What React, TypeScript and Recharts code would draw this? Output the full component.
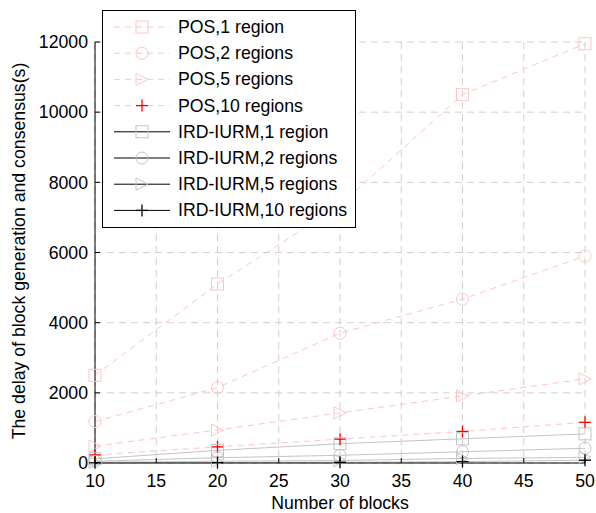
import React from 'react';
import { LineChart, Line, XAxis, YAxis, CartesianGrid } from 'recharts';

const blocks = [10, 20, 30, 40, 50];
const pos1 = [2500, 5100, 7350, 10500, 11950];
const pos2 = [1180, 2150, 3700, 4670, 5900];
const pos5 = [480, 940, 1430, 1910, 2400];
const pos10 = [230, 460, 680, 900, 1160];
const ird1 = [120, 360, 550, 690, 830];
const ird2 = [50, 150, 220, 320, 420];
const ird5 = [20, 50, 70, 130, 160];
const ird10 = [5, 10, 20, 40, 80];

const xTicks = [10, 15, 20, 25, 30, 35, 40, 45, 50];
const yTicks = [0, 2000, 4000, 6000, 8000, 10000, 12000];

const data = blocks.map((b, i) => ({
  blocks: b,
  pos1: pos1[i],
  pos2: pos2[i],
  pos5: pos5[i],
  pos10: pos10[i],
  ird1: ird1[i],
  ird2: ird2[i],
  ird5: ird5[i],
  ird10: ird10[i],
}));

const PINK = '#ffc4c4';
const GRAY = '#c4c4c4';
const FONT = '"Liberation Sans", Arial, sans-serif';
const FS = 17.7;

type Shape = 'square' | 'circle' | 'triangle' | 'plus';

const Marker = ({ shape, cx, cy, color }: { shape: Shape; cx: number; cy: number; color: string }) => {
  const r = 6;
  if (shape === 'square') return <rect x={cx - r} y={cy - r} width={2 * r} height={2 * r} fill="none" stroke={color} />;
  if (shape === 'circle') return <circle cx={cx} cy={cy} r={r} fill="none" stroke={color} />;
  if (shape === 'triangle')
    return <polygon points={`${cx - r},${cy - r} ${cx + r},${cy} ${cx - r},${cy + r}`} fill="none" stroke={color} />;
  return (
    <g stroke={color} strokeWidth={1.3}>
      <line x1={cx - r} y1={cy} x2={cx + r} y2={cy} />
      <line x1={cx} y1={cy - r} x2={cx} y2={cy + r} />
    </g>
  );
};

const dotFor = (shape: Shape, color: string) => (props: any) => {
  const { cx, cy, key, index } = props;
  if (cx == null || cy == null) return <g key={key ?? index} />;
  return (
    <g key={key ?? `${shape}-${index}`}>
      <Marker shape={shape} cx={cx} cy={cy} color={color} />
    </g>
  );
};

const series = [
  { key: 'pos1', name: 'POS,1 region', shape: 'square' as Shape, line: PINK, dash: '6 5', marker: PINK, legendLine: PINK },
  { key: 'pos2', name: 'POS,2 regions', shape: 'circle' as Shape, line: PINK, dash: '6 5', marker: PINK, legendLine: PINK },
  { key: 'pos5', name: 'POS,5 regions', shape: 'triangle' as Shape, line: PINK, dash: '6 5', marker: PINK, legendLine: PINK },
  { key: 'pos10', name: 'POS,10 regions', shape: 'plus' as Shape, line: PINK, dash: '6 5', marker: '#ff0000', legendLine: PINK },
  { key: 'ird1', name: 'IRD-IURM,1 region', shape: 'square' as Shape, line: GRAY, dash: undefined, marker: GRAY, legendLine: '#000' },
  { key: 'ird2', name: 'IRD-IURM,2 regions', shape: 'circle' as Shape, line: GRAY, dash: undefined, marker: GRAY, legendLine: '#000' },
  { key: 'ird5', name: 'IRD-IURM,5 regions', shape: 'triangle' as Shape, line: GRAY, dash: undefined, marker: GRAY, legendLine: '#000' },
  { key: 'ird10', name: 'IRD-IURM,10 regions', shape: 'plus' as Shape, line: GRAY, dash: undefined, marker: '#000', legendLine: '#000' },
];

const hiddenTick = () => <g />;

const LegendBox = () => (
  <div
    style={{
      position: 'absolute',
      left: 102,
      top: 10,
      width: 252,
      height: 216,
      border: '1px solid #000',
      background: '#fff',
    }}
  >
    <svg width={252} height={216} style={{ display: 'block' }}>
      {series.map((s, i) => {
        const y = 16 + i * 26.2;
        return (
          <g key={s.key}>
            <line x1={11} x2={67} y1={y} y2={y} stroke={s.legendLine} strokeDasharray={s.dash} />
            <Marker shape={s.shape} cx={39} cy={y} color={s.marker} />
            <text x={75} y={y} dominantBaseline="central" fontFamily={FONT} fontSize={FS} fill="#000">
              {s.name}
            </text>
          </g>
        );
      })}
    </svg>
  </div>
);

export default function App() {
  return (
    <div style={{ position: 'absolute', left: 0, top: 0, width: 596, height: 513, background: '#fff' }}>
      <LineChart width={596} height={513} data={data} margin={{ top: 42, right: 11, bottom: 20, left: 35 }}>
        <CartesianGrid stroke="#d0d0d0" strokeDasharray="7 5" />
        <XAxis
          dataKey="blocks"
          type="number"
          domain={[10, 50]}
          ticks={xTicks}
          height={30}
          stroke="#000"
          tickSize={-5}
          tickMargin={16}
          tick={{ fill: '#000', fontSize: FS, fontFamily: FONT }}
          label={() => (
            <text x={340} y={509} textAnchor="middle" fontFamily={FONT} fontSize={FS} fill="#000">
              Number of blocks
            </text>
          )}
        />
        <XAxis
          xAxisId="top"
          orientation="top"
          dataKey="blocks"
          type="number"
          domain={[10, 50]}
          ticks={xTicks}
          height={0}
          stroke="#000"
          tickSize={-5}
          tick={hiddenTick}
        />
        <YAxis
          type="number"
          domain={[0, 12000]}
          ticks={yTicks}
          width={60}
          stroke="#000"
          tickSize={-5}
          tickMargin={12}
          tick={{ fill: '#000', fontSize: FS, fontFamily: FONT }}
          label={() => (
            <text
              x={19}
              y={251}
              transform="rotate(-90 19 251)"
              textAnchor="middle"
              dominantBaseline="central"
              fontFamily={FONT}
              fontSize={FS}
              fill="#000"
            >
              The delay of block generation and consensus(s)
            </text>
          )}
        />
        <YAxis
          yAxisId="right"
          orientation="right"
          type="number"
          domain={[0, 12000]}
          ticks={yTicks}
          width={0}
          stroke="#000"
          tickSize={-5}
          tick={hiddenTick}
        />
        {series.map((s) => (
          <Line
            key={s.key}
            dataKey={s.key}
            name={s.name}
            type="linear"
            stroke={s.line}
            strokeWidth={1}
            strokeDasharray={s.dash}
            dot={dotFor(s.shape, s.marker)}
            activeDot={false}
            isAnimationActive={false}
          />
        ))}
      </LineChart>
      <LegendBox />
    </div>
  );
}
